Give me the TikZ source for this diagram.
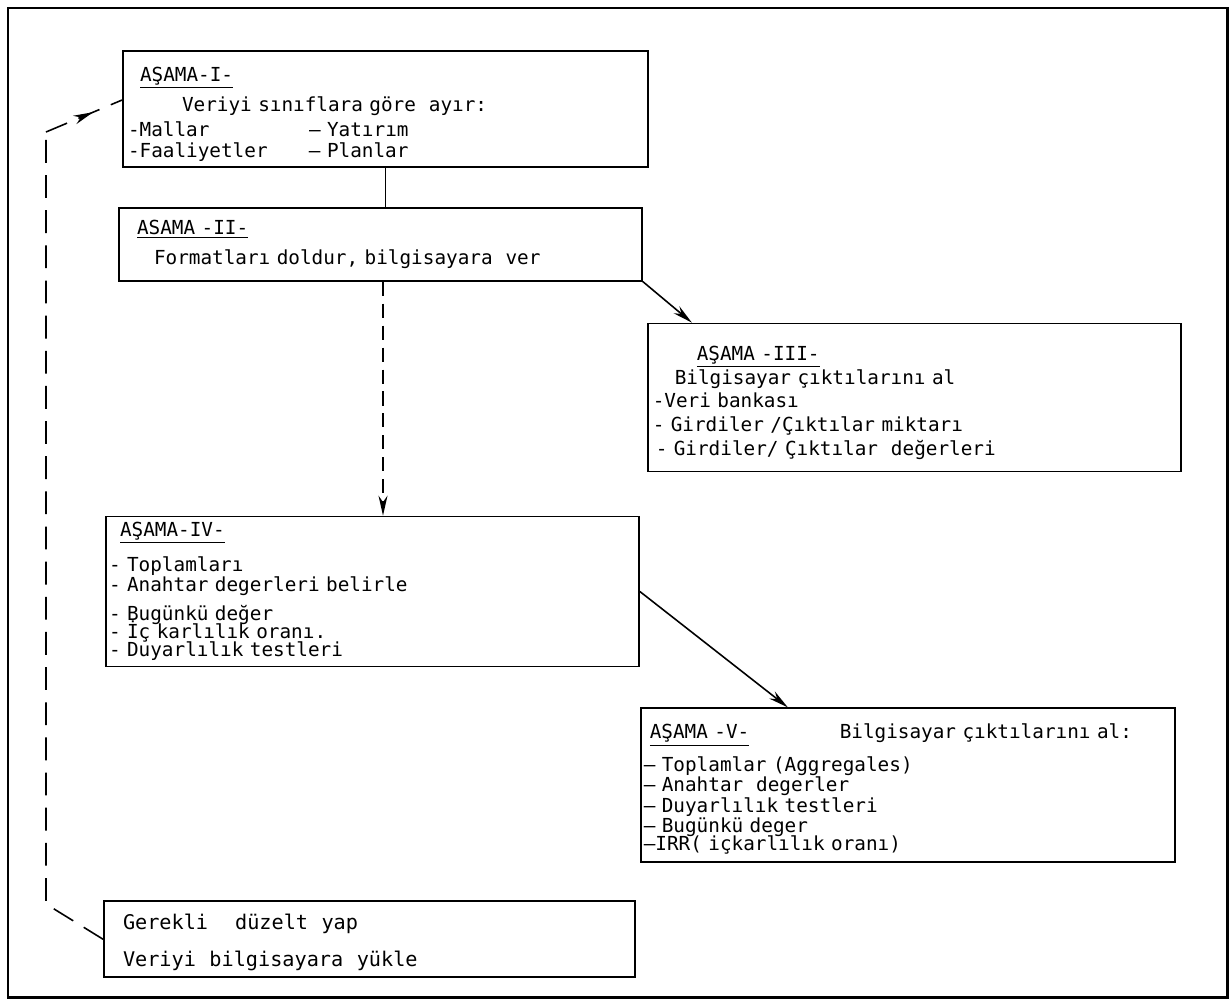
\documentclass[tikz,border=0pt]{standalone}
\usepackage{fontspec}
\setmainfont{DejaVu Sans Mono}
\usetikzlibrary{arrows.meta, positioning, decorations.markings}
\newcommand{\tightlines}{\lineskiplimit=-20pt\relax}
\tikzset{
    stage/.style={rectangle, draw=black, line width=1pt, align=left, inner xsep=0.1cm, inner ysep=0.1cm, font=\fontsize{11}{12}\selectfont\tightlines},
    arrow/.style={-{Stealth[length=4mm, width=1.8mm]}, line width=0.9pt},
    dasharrow/.style={-{Stealth[length=4mm, width=1.8mm]}, line width=0.9pt, dash pattern=on 8pt off 4.5pt},
    loopline/.style={line width=0.9pt, dash pattern=on 13pt off 7pt},
}

\begin{document}
\begin{tikzpicture}
        \useasboundingbox (0,0) rectangle (24.64,-20.06);
        \draw[line width=1.7pt] (0.16,-0.16) rectangle (24.54,-19.94);

        % Stages
        \node[stage, text width=10.3cm, minimum height=2.32cm] (s1) at (7.71,-2.18)
            {\rule{0pt}{0.5cm}\hspace*{0.24cm}\underline{AŞAMA-I-}\\[5pt]
             \hspace*{1.08cm}Veriyi sınıflara göre\ \ ayır:\\[2.2pt]
             \makebox[3.62cm][l]{-Mallar}– Yatırım\\
             \makebox[3.62cm][l]{-Faaliyetler}– Planlar};
        \node[stage, text width=10.26cm, minimum height=1.46cm, below=0.78cm of s1, xshift=-0.1cm] (s2)
            {\hspace*{0.26cm}\underline{ASAMA -II-}\\[5pt]
             \hspace*{0.6cm}Formatları doldur, bilgisayara\ \ ver};
        \node[stage, text width=10.46cm, minimum height=2.96cm, below right=0.82cm and 0.08cm of s2, font=\fontsize{11}{13.6}\selectfont\tightlines] (s3)
            {\rule{0pt}{0.5cm}\hspace*{0.88cm}\underline{AŞAMA -III-}\\
             \hspace*{0.44cm}Bilgisayar çıktılarını al\\
             -Veri bankası\\
             - Girdiler /Çıktılar miktarı\\
             \hspace*{0.06cm}- Girdiler/ Çıktılar\ \ değerleri};
        \node[stage, text width=10.54cm, minimum height=3cm, inner xsep=0.06cm, below=4.68cm of s2, xshift=-0.16cm, font=\fontsize{11}{10.4}\selectfont\tightlines] (s4)
            {\hspace*{0.22cm}\underline{AŞAMA-IV-}\\[9.4pt]
             - Toplamları\\[1pt]
             - Anahtar degerleri belirle\\[6pt]
             - Bugünkü değer\\
             - İç karlılık oranı.\\
             - Duyarlılık testleri};
        \node[stage, text width=10.56cm, minimum height=3.08cm, inner xsep=0.06cm, below right=0.8cm and 0cm of s4, font=\fontsize{11}{11.6}\selectfont\tightlines] (s5)
            {\rule{0pt}{0.45cm}\hspace*{0.12cm}\makebox[3.8cm][l]{\underline{AŞAMA -V-}}Bilgisayar çıktılarını al:\\[7pt]
             -- Toplamlar (Aggregales)\\
             -- Anahtar\ \ degerler\\
             -- Duyarlılık testleri\\
             -- Bugünkü deger\\[-1.5pt]
             --IRR( içkarlılık oranı)};
        \node[stage, text width=10.42cm, minimum height=1.52cm, below=4.66cm of s4, xshift=-0.06cm, font=\fontsize{11.5}{12}\selectfont\tightlines] (s6)
            {\rule{0pt}{0.42cm}\hspace*{0.28cm}Gerekli\ \ \ \ düzelt\ \ yap\\[9pt]
             \hspace*{0.28cm}Veriyi\ \ bilgisayara\ \ yükle};

        % Return path
        \coordinate (fbbot) at (0.92,-18.08);
        \coordinate (fbtop) at (0.92,-2.64);

        % Arrows
        \draw[line width=0.9pt] (s1.south) -- (s1.south |- s2.north);
        \draw[arrow] (s2.south east) -- ([xshift=0.9cm]s3.north west);
        \draw[dasharrow] ([xshift=0.05cm]s2.south) -- ([xshift=0.05cm]s2.south |- s4.north);
        \draw[arrow] (s4.east) -- ([xshift=2.96cm]s5.north west);
        \draw[loopline] (s6.west) -- (fbbot) -- (fbtop);
        \draw[loopline, postaction={decorate}, decoration={markings, mark=at position 0.62 with {\arrow{Stealth[length=4mm, width=1.8mm]}}}] (fbtop) -- ([yshift=0.18cm]s1.west);
\end{tikzpicture}
\end{document}
